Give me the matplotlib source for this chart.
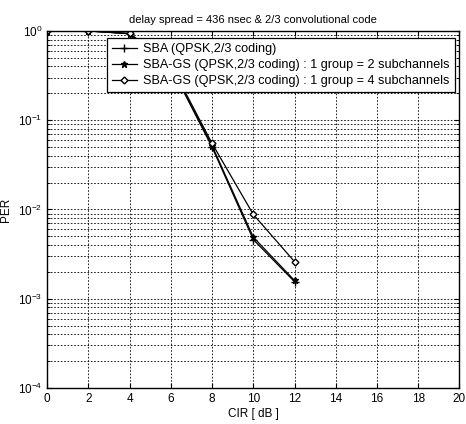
import numpy as np
import matplotlib
matplotlib.use('Agg')
from matplotlib import pyplot as plt

cir = [0, 2, 4, 6, 8, 10, 12]
per_sba = [1.0, 1.0, 0.93, 0.40, 0.050, 0.0046, 0.00155]
per_gs2 = [1.0, 1.0, 0.93, 0.40, 0.052, 0.0049, 0.0016]
per_gs4 = [1.0, 1.0, 0.94, 0.42, 0.055, 0.0088, 0.0026]

labels = ['SBA (QPSK,2/3 coding)',
          'SBA-GS (QPSK,2/3 coding) : 1 group = 2 subchannels',
          'SBA-GS (QPSK,2/3 coding) : 1 group = 4 subchannels']

plt.rcParams['font.family'] = ['Liberation Sans', 'DejaVu Sans']

fig = plt.figure(figsize=(4.66, 4.24), dpi=100)
ax = fig.add_axes([0.101, 0.085, 0.885, 0.842])

ax.semilogy(cir, per_sba, 'k-', marker='+', markersize=6, lw=0.9, label=labels[0])
ax.semilogy(cir, per_gs2, 'k-', marker='*', markersize=4.5, lw=0.9, label=labels[1])
ax.semilogy(cir, per_gs4, 'k-', marker='D', markersize=3.5, mfc='white', lw=0.9, label=labels[2])

ax.set_xlim(0, 20)
ax.set_ylim(1e-4, 1)
ax.set_xticks(np.arange(0, 21, 2))
ax.grid(True, which='major', color='k', linestyle=(0, (2, 2)), lw=0.6)
ax.grid(True, which='minor', axis='y', color='k', linestyle=(0, (2, 2)), lw=0.6)
ax.tick_params(direction='in', which='both', top=True, right=True, labelsize=8.5)
for s in ax.spines.values():
    s.set_linewidth(1.0)

ax.set_xlabel('CIR [ dB ]', fontsize=8.5, labelpad=2)
ax.set_ylabel('PER', fontsize=8.5)
ax.set_title('delay spread = 436 nsec & 2/3 convolutional code', fontsize=8, pad=6)

leg = ax.legend(loc='upper left', bbox_to_anchor=(0.135, 0.99), fontsize=9.1,
                frameon=True, fancybox=False, edgecolor='k', framealpha=1,
                handlelength=2.0, handletextpad=0.5, borderpad=0.4,
                labelspacing=0.3, borderaxespad=0.3)
leg.get_frame().set_linewidth(0.9)

fig.savefig('out.png', dpi=100)
